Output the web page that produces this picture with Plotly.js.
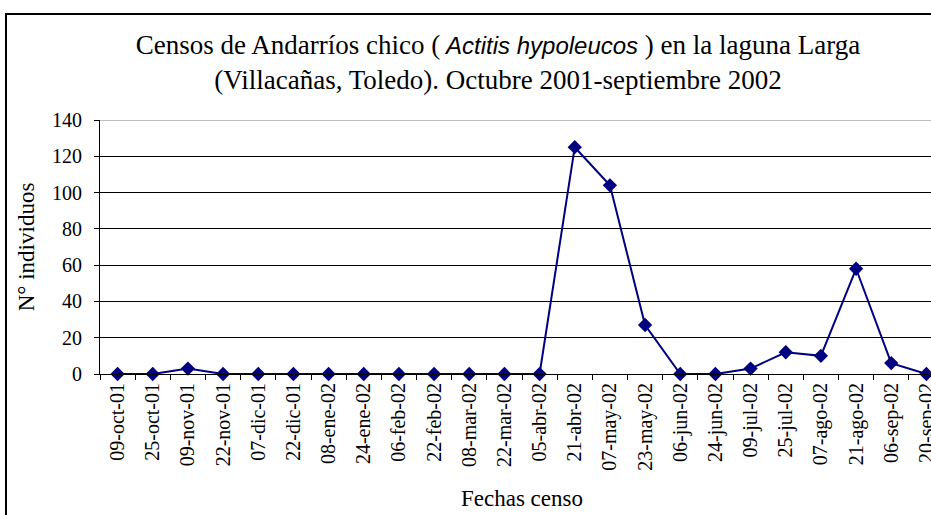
<!DOCTYPE html>
<html>
<head>
<meta charset="utf-8">
<script src="https://cdn.plot.ly/plotly-3.0.1.min.js"></script>
<style>
html, body { margin: 0; padding: 0; overflow: hidden; background: #fff; }
#chart { width: 960px; height: 540px; }
</style>
</head>
<body>
<div id="chart"></div>
<script>
const fechas = ["09-oct-01","25-oct-01","09-nov-01","22-nov-01","07-dic-01","22-dic-01",
  "08-ene-02","24-ene-02","06-feb-02","22-feb-02","08-mar-02","22-mar-02","05-abr-02",
  "21-abr-02","07-may-02","23-may-02","06-jun-02","24-jun-02","09-jul-02","25-jul-02",
  "07-ago-02","21-ago-02","06-sep-02","20-sep-02"];
const individuos = [0,0,3,0,0,0,0,0,0,0,0,0,0,125,104,27,0,0,3,12,10,58,6,0];
const yTicks = [0,20,40,60,80,100,120,140];

const serif = "Liberation Serif";

const trace = {
  x: fechas,
  y: individuos,
  type: "scatter",
  mode: "lines+markers",
  line: { color: "#000080", width: 2 },
  marker: { symbol: "diamond", size: 11, color: "#000080" },
  cliponaxis: false,
  hoverinfo: "x+y"
};

const W = 960, H = 540;
const layout = {
  width: W, height: H,
  margin: { l: 100, r: 16, t: 120, b: 166 },
  paper_bgcolor: "#fff",
  plot_bgcolor: "#fff",
  showlegend: false,
  font: { family: serif, size: 20, color: "#000" },
  title: {
    text: "Censos de Andarríos chico (<span style=\"font-family:Liberation Sans;font-style:italic;font-size:24px\"> Actitis hypoleucos </span>) en la laguna Larga<br>(Villacañas, Toledo). Octubre 2001-septiembre 2002",
    font: { family: serif, size: 27, color: "#000" },
    xref: "container", x: 498 / W, xanchor: "center",
    yref: "container", y: 1 - 54 / H, yanchor: "middle"
  },
  xaxis: {
    type: "category",
    range: [-0.5, fechas.length - 0.5],
    tickangle: -90,
    ticks: "outside", ticklen: 5, tickwidth: 1, tickcolor: "#000",
    tickson: "boundaries",
    showgrid: false, zeroline: false,
    showline: true, linecolor: "#000", linewidth: 1,
    tickfont: { family: serif, size: 20, color: "#000" },
    title: { text: "Fechas censo", font: { family: serif, size: 23, color: "#000" }, standoff: 20 },
    fixedrange: true
  },
  yaxis: {
    range: [0, 140],
    tickvals: yTicks,
    ticktext: yTicks.map(String),
    ticks: "outside", ticklen: 5, tickwidth: 1, tickcolor: "#000",
    ticklabelstandoff: 8,
    showgrid: true, gridcolor: "#000", gridwidth: 1,
    zeroline: false,
    showline: true, linecolor: "#000", linewidth: 1,
    tickfont: { family: serif, size: 20, color: "#000" },
    title: { text: "N° individuos", font: { family: serif, size: 23, color: "#000" }, standoff: 10 },
    fixedrange: true
  },
  shapes: [
    { type: "line", xref: "paper", yref: "y", x0: 0, x1: 1, y0: 140, y1: 140,
      line: { color: "#808080", width: 1 }, layer: "above" },
    { type: "rect", xref: "paper", yref: "paper",
      x0: (6 - 100) / 844, x1: 2, y0: -2, y1: (374 - 14) / 254,
      line: { color: "#000", width: 2 }, fillcolor: "rgba(0,0,0,0)", layer: "above" }
  ]
};

Plotly.newPlot("chart", [trace], layout, { displayModeBar: false, staticPlot: true });
</script>
</body>
</html>
